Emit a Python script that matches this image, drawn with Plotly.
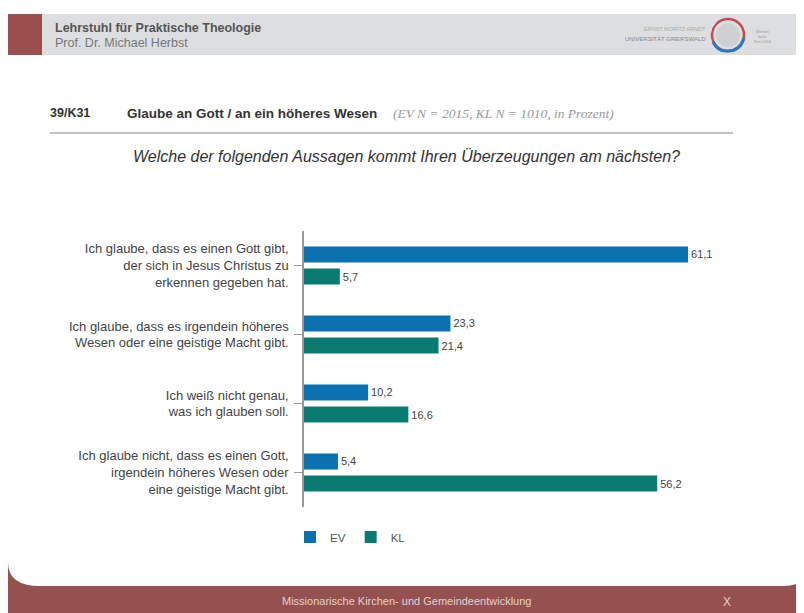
import plotly.graph_objects as go

# ---------------- data ----------------
categories = [
    "Ich glaube, dass es einen Gott gibt,<br>der sich in Jesus Christus zu<br>erkennen gegeben hat.",
    "Ich glaube, dass es irgendein höheres<br>Wesen oder eine geistige Macht gibt.",
    "Ich weiß nicht genau,<br>was ich glauben soll.",
    "Ich glaube nicht, dass es einen Gott,<br>irgendein höheres Wesen oder<br>eine geistige Macht gibt.",
]
ev_values = [61.1, 23.3, 10.2, 5.4]
kl_values = [5.7, 21.4, 16.6, 56.2]
series_names = ["EV", "KL"]

# ---------------- geometry helpers (screen pixels; page body has 8px margin) ----------------
OFF = 8
W, H = 796, 605
ML, MR, MT, MB = 296, 60, 223, 106
PW, PH = W - ML - MR, H - MT - MB


def px(x):
    return (x - OFF - ML) / PW


def py(y):
    return (H - MB - (y - OFF)) / PH


EV_COLOR = "#0b71ae"
KL_COLOR = "#0b7b72"
RED = "#955050"
FONT = "Liberation Sans"

fig = go.Figure()
fig.add_trace(go.Bar(
    y=categories, x=ev_values, name=series_names[0], orientation="h",
    marker=dict(color=EV_COLOR, line=dict(width=0)),
    texttemplate="%{x:.1f}", textposition="outside",
    textfont=dict(size=11, color="#444"), cliponaxis=False,
))
fig.add_trace(go.Bar(
    y=categories, x=kl_values, name=series_names[1], orientation="h",
    marker=dict(color=KL_COLOR, line=dict(width=0)),
    texttemplate="%{x:.1f}", textposition="outside",
    textfont=dict(size=11, color="#444"), cliponaxis=False,
))

shapes = []
annotations = []

# header band
shapes.append(dict(type="rect", xref="paper", yref="paper", layer="below",
                   x0=px(8), x1=px(804), y0=py(14), y1=py(55),
                   fillcolor="#dddee0", line=dict(width=0)))
shapes.append(dict(type="rect", xref="paper", yref="paper", layer="below",
                   x0=px(8), x1=px(42), y0=py(14), y1=py(55),
                   fillcolor="#9a4e4e", line=dict(width=0)))
annotations.append(dict(xref="paper", yref="paper", x=px(53), y=py(28), xanchor="left", yanchor="middle",
                        text="<b>Lehrstuhl für Praktische Theologie</b>", showarrow=False,
                        font=dict(size=12.5, color="#555", family=FONT)))
annotations.append(dict(xref="paper", yref="paper", x=px(53), y=py(43), xanchor="left", yanchor="middle",
                        text="Prof. Dr. Michael Herbst", showarrow=False,
                        font=dict(size=12.5, color="#777", family=FONT)))

# logo
annotations.append(dict(xref="paper", yref="paper", x=px(708), y=py(29), xanchor="right", yanchor="middle",
                        text="ERNST MORITZ ARNDT", showarrow=False,
                        font=dict(size=5.5, color="#aaa", family=FONT)))
annotations.append(dict(xref="paper", yref="paper", x=px(708), y=py(39), xanchor="right", yanchor="middle",
                        text="UNIVERSITÄT GREIFSWALD", showarrow=False,
                        font=dict(size=6, color="#888", family=FONT)))
annotations.append(dict(xref="paper", yref="paper", x=px(752), y=py(36), xanchor="left", yanchor="middle",
                        text="Wissen<br>lockt.<br>Seit 1456", showarrow=False,
                        font=dict(size=4, color="#999", family=FONT)))
shapes.append(dict(type="circle", xref="paper", yref="paper", layer="below",
                   x0=px(716), x1=px(740), y0=py(23), y1=py(47),
                   fillcolor="#cfd0d2", line=dict(width=0)))
shapes.append(dict(type="circle", xref="paper", yref="paper", layer="below",
                   x0=px(712), x1=px(744), y0=py(19), y1=py(51),
                   fillcolor="rgba(0,0,0,0)", line=dict(width=2.5, color="#c64a55")))
shapes.append(dict(type="path", xref="paper", yref="paper", layer="below",
                   path=f"M {px(713)},{py(42)} Q {px(718)},{py(52)} {px(728)},{py(51)} Q {px(740)},{py(51)} {px(744)},{py(38)}",
                   line=dict(width=3, color="#2e78b8")))
shapes.append(dict(type="path", xref="paper", yref="paper", layer="below",
                   path=f"M {px(712)},{py(33)} L {px(712)},{py(28)} L {px(716)},{py(23)} L {px(709)},{py(23)} Z",
                   fillcolor="#dddee0", line=dict(width=0)))

# section title
annotations.append(dict(xref="paper", yref="paper", x=px(48), y=py(113), xanchor="left", yanchor="middle",
                        text="<b>39/K31</b>", showarrow=False,
                        font=dict(size=12.5, color="#333", family=FONT)))
annotations.append(dict(xref="paper", yref="paper", x=px(125), y=py(113), xanchor="left", yanchor="middle",
                        text="<b>Glaube an Gott / an ein höheres Wesen</b>", showarrow=False,
                        font=dict(size=13.5, color="#333", family=FONT)))
annotations.append(dict(xref="paper", yref="paper", x=px(391), y=py(113), xanchor="left", yanchor="middle",
                        text="<i>(EV N = 2015, KL N = 1010, in Prozent)</i>", showarrow=False,
                        font=dict(size=13.5, color="#999", family="Liberation Serif")))
shapes.append(dict(type="line", xref="paper", yref="paper",
                   x0=px(50), x1=px(733), y0=py(133), y1=py(133),
                   line=dict(width=1.5, color="#aaa")))
annotations.append(dict(xref="paper", yref="paper", x=px(406), y=py(157), xanchor="center", yanchor="middle",
                        text="<i>Welche der folgenden Aussagen kommt Ihren Überzeugungen am nächsten?</i>",
                        showarrow=False, font=dict(size=16, color="#333", family=FONT)))

# footer
shapes.append(dict(type="rect", xref="paper", yref="paper", layer="below",
                   x0=px(8), x1=px(804), y0=py(555), y1=py(613),
                   fillcolor=RED, line=dict(width=0)))
shapes.append(dict(type="path", xref="paper", yref="paper", layer="below",
                   path=(f"M {px(8)},{py(554)} L {px(804)},{py(554)} L {px(804)},{py(573)} "
                         f"Q {px(804)},{py(586)} {px(783)},{py(586)} L {px(40)},{py(586)} "
                         f"Q {px(8)},{py(586)} {px(8)},{py(562)} Z"),
                   fillcolor="white", line=dict(width=0)))
annotations.append(dict(xref="paper", yref="paper", x=px(406), y=py(601), xanchor="center", yanchor="middle",
                        text="Missionarische Kirchen- und Gemeindeentwicklung", showarrow=False,
                        font=dict(size=11, color="#e6cfcf", family=FONT)))
annotations.append(dict(xref="paper", yref="paper", x=px(727), y=py(602), xanchor="center", yanchor="middle",
                        text="X", showarrow=False,
                        font=dict(size=12, color="#e6cfcf", family=FONT)))

fig.update_layout(
    width=W, height=H,
    margin=dict(l=ML, r=MR, t=MT, b=MB, pad=0),
    paper_bgcolor="white", plot_bgcolor="white",
    barmode="group", bargap=0.36, bargroupgap=0.27,
    separators=",.",
    font=dict(family=FONT, color="#444"),
    showlegend=True,
    legend=dict(orientation="h", x=px(290), y=py(537), xanchor="left", yanchor="middle",
                font=dict(size=11.5, color="#555"), bgcolor="rgba(0,0,0,0)", traceorder="normal",
                itemwidth=30),
    shapes=shapes, annotations=annotations,
    xaxis=dict(range=[0, PW / 6.285], visible=False, showgrid=False, zeroline=False),
    yaxis=dict(autorange="reversed", showgrid=False, zeroline=False,
               showline=True, linecolor="#999", linewidth=1.5,
               ticks="outside", ticklen=8, tickcolor="#999", tickwidth=1,
               ticklabelstandoff=3,
               tickfont=dict(size=13, color="#444", family=FONT)),
)

fig.write_html("out.html")
